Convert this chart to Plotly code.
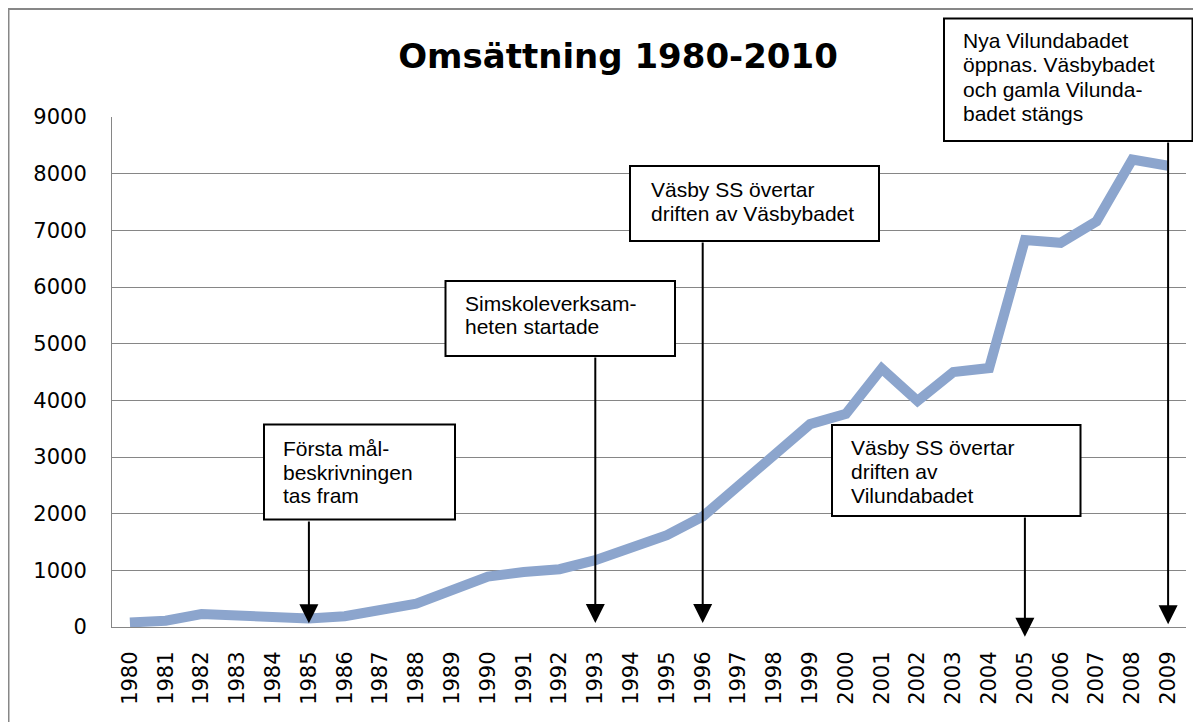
import plotly.graph_objects as go

# ---------------- data ----------------
years = ["1980", "1981", "1982", "1983", "1984", "1985", "1986", "1987", "1988", "1989",
         "1990", "1991", "1992", "1993", "1994", "1995", "1996", "1997", "1998", "1999",
         "2000", "2001", "2002", "2003", "2004", "2005", "2006", "2007", "2008", "2009"]
revenue = [80, 110, 230, 190, 190, 150, 190, 320, 410, 650,
           890, 970, 1020, 1180, 1420, 1620, 1950, 2500, 3050, 3580,
           3760, 4560, 3990, 4500, 4570, 6830, 6780, 7160, 8250, 8140]

title_text = "Omsättning 1980-2010"
y_ticks = [0, 1000, 2000, 3000, 4000, 5000, 6000, 7000, 8000, 9000]

event_years = ["1985", "1993", "1996", "2005", "2009"]
event_texts = [
    ["Första mål-", "beskrivningen", "tas fram"],
    ["Simskoleverksam-", "heten startade"],
    ["Väsby SS övertar", "driften av Väsbybadet"],
    ["Väsby SS övertar", "driften av", "Vilundabadet"],
    ["Nya Vilundabadet", "öppnas. Väsbybadet", "och gamla Vilunda-", "badet stängs"],
]
arrow_tip = [65, 70, 70, -171, 48]           # value where arrow head points
arrow_tail = [1888, 4782, 6812, 1959, 8576]  # value where arrow leaves its box

# ---------------- layout geometry ----------------
OFF = 8                      # page body margin
W, H = 1201 - OFF, 722 - OFF
ML, MR, MT, MB = 112 - OFF, 15, 117 - OFF, 95
PW = W - ML - MR
PH = H - MT - MB


def px_x(px):
    """page pixel x -> paper fraction"""
    return (px - OFF - ML) / PW


def px_y(py):
    """page pixel y -> paper fraction"""
    return (H - MB - (py - OFF)) / PH


# text-box rectangles (page pixels), text left / first baseline / line pitch
boxes = [(264, 424.5, 455, 519.5), (445.5, 281, 675, 356), (630, 166, 879, 241),
         (832, 425, 1080.5, 516), (944, 18.5, 1192.5, 141)]
text_pos = [(283, 456.5, 23.5), (465, 311.5, 23), (651, 197.5, 24),
            (851, 455, 24), (963, 48, 24.5)]

FS_NOTE = 21
LINE_COLOR = "#8CA5CD"
GRID = "#868686"

fig = go.Figure()
fig.add_trace(go.Scatter(
    x=years, y=revenue, mode="lines",
    line=dict(color=LINE_COLOR, width=10),
    hoverinfo="skip", showlegend=False,
))

shapes = [
    dict(type="rect", xref="paper", yref="paper",
         x0=px_x(8.5), x1=px_x(1230), y0=px_y(750), y1=px_y(9),
         line=dict(color="#878787", width=2), fillcolor="rgba(0,0,0,0)", layer="below"),
]
for (x0, y0, x1, y1) in boxes:
    shapes.append(dict(type="rect", xref="paper", yref="paper",
                       x0=px_x(x0), x1=px_x(x1), y0=px_y(y1), y1=px_y(y0),
                       line=dict(color="black", width=2), fillcolor="white", layer="above"))

annotations = []
for lines, (tx, tb, pitch) in zip(event_texts, text_pos):
    for i, ln in enumerate(lines):
        base = tb + i * pitch
        annotations.append(dict(
            text=ln, xref="paper", yref="paper",
            x=px_x(tx), y=px_y(base - 0.905 * FS_NOTE),
            xanchor="left", yanchor="top", showarrow=False,
            borderpad=0, borderwidth=0,
            font=dict(family="Liberation Sans, Arial", size=FS_NOTE, color="black"),
        ))

for yr, tip, tail in zip(event_years, arrow_tip, arrow_tail):
    idx = years.index(yr)
    annotations.append(dict(
        text="", x=idx, y=tip, xref="x", yref="y",
        ax=idx, ay=tail, axref="x", ayref="y",
        showarrow=True, arrowhead=2, arrowsize=1.9, arrowwidth=2, arrowcolor="black",
    ))

fig.update_layout(
    width=W, height=H,
    margin=dict(l=ML, r=MR, t=MT, b=MB, pad=0),
    paper_bgcolor="white", plot_bgcolor="white",
    title=dict(text=title_text, x=px_x(618), xref="paper", xanchor="center",
               y=1 - (56 - OFF) / H, yref="container", yanchor="middle",
               font=dict(family="DejaVu Sans", size=34, color="black", weight="bold")),
    shapes=shapes, annotations=annotations,
    showlegend=False, hovermode=False,
    xaxis=dict(type="category", categoryorder="array", categoryarray=years,
               range=[-0.5, len(years) - 0.5], tickangle=-90,
               tickfont=dict(family="DejaVu Sans", size=21, color="black"),
               showgrid=False, showline=True, linecolor=GRID, linewidth=1,
               ticks="", ticklabelstandoff=15, zeroline=False, fixedrange=True),
    yaxis=dict(range=[0, 9000], tickvals=y_ticks, ticktext=[str(v) for v in y_ticks],
               tickfont=dict(family="DejaVu Sans", size=21, color="black"),
               showgrid=True, gridcolor=GRID, gridwidth=1,
               showline=True, linecolor=GRID, linewidth=1,
               ticks="", ticklabelstandoff=20, zeroline=False, fixedrange=True),
)

fig.write_html("out.html", config={"displayModeBar": False})
